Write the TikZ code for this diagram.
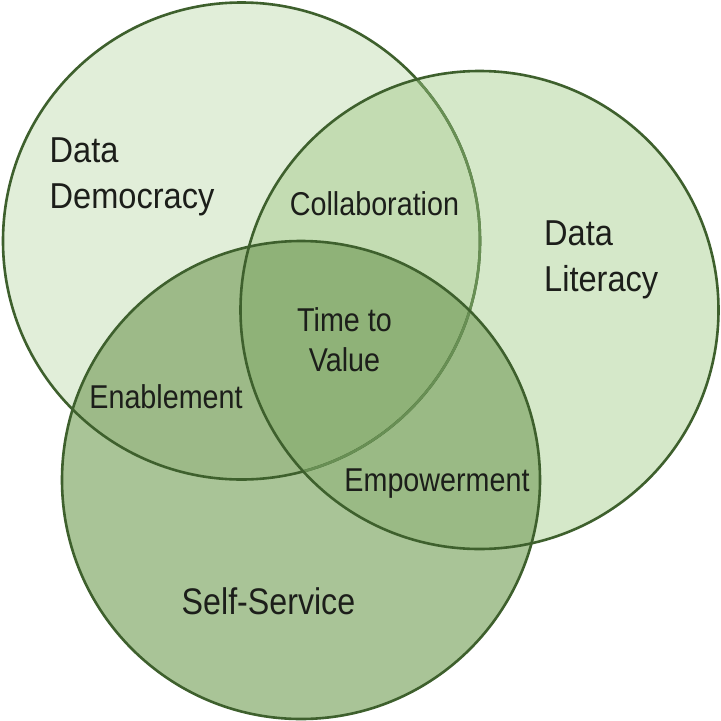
\documentclass[tikz,border=0pt]{standalone}
\usepackage{fontspec}
\setmainfont{Liberation Sans}[FakeStretch=0.87]
\newfontfamily\widerf{Liberation Sans}[FakeStretch=0.905]
\definecolor{cA}{RGB}{225,238,217}
\definecolor{cB}{RGB}{213,232,201}
\definecolor{cAB}{RGB}{195,220,178}
\definecolor{cC}{RGB}{169,196,151}
\definecolor{cAC}{RGB}{157,186,136}
\definecolor{cBC}{RGB}{154,186,133}
\definecolor{cABC}{RGB}{143,178,120}
\definecolor{ringc}{RGB}{62,96,45}
\definecolor{ringlight}{RGB}{104,143,84}
\definecolor{txt}{RGB}{28,30,26}
\begin{document}
\begin{tikzpicture}[x=1pt,y=-1pt,
  ring/.style={draw=ringc,line width=2.6pt},
  lbig/.style={font=\widerf\fontsize{36}{46}\selectfont,inner sep=0pt,text=txt},
  lsmall/.style={font=\fontsize{33}{40}\selectfont,inner sep=0pt,text=txt}]
\useasboundingbox (0,0) rectangle (721,721);
\fill[white] (0,0) rectangle (721,721);
\coordinate (A) at (241.5,241);
\coordinate (B) at (479.5,310);
\coordinate (C) at (301,480);
\def\RA{238.5pt}\def\RB{239pt}\def\RC{239pt}
% fills
\fill[cA] (A) circle[radius=\RA];
\fill[cB] (B) circle[radius=\RB];
\begin{scope}\clip (A) circle[radius=\RA]; \fill[cAB] (B) circle[radius=\RB];\end{scope}
\fill[cC] (C) circle[radius=\RC];
\begin{scope}\clip (A) circle[radius=\RA]; \fill[cAC] (C) circle[radius=\RC];\end{scope}
\begin{scope}\clip (B) circle[radius=\RB]; \fill[cBC] (C) circle[radius=\RC];\end{scope}
\begin{scope}\clip (A) circle[radius=\RA]; \clip (B) circle[radius=\RB]; \fill[cABC] (C) circle[radius=\RC];\end{scope}
% outlines
\draw[ring] (A) circle[radius=\RA];
\begin{scope}\clip (B) circle[radius=\RB]; \draw[ring,draw=ringlight] (A) circle[radius=\RA];\end{scope}
\draw[ring] (B) circle[radius=\RB];
\draw[ring] (C) circle[radius=\RC];
% labels
\node[lbig,align=left,anchor=north west] (dd) at (49.5,138) {Data\\Democracy};
\node[lbig,align=left,anchor=north west] (dl) at (544,221) {Data\\Literacy};
\node[lsmall,anchor=base] (co) at (374.5,215) {Collaboration};
\node[lsmall,align=center,anchor=north] (tv) at (344.5,307) {Time to\\Value};
\node[lsmall,anchor=base] (en) at (166,408) {Enablement};
\node[lsmall,anchor=base] (em) at (437,491) {Empowerment};
\node[lsmall,font=\fontsize{37}{46}\selectfont,anchor=base] (ss) at (268.5,614) {Self-Service};
\end{tikzpicture}
\end{document}
